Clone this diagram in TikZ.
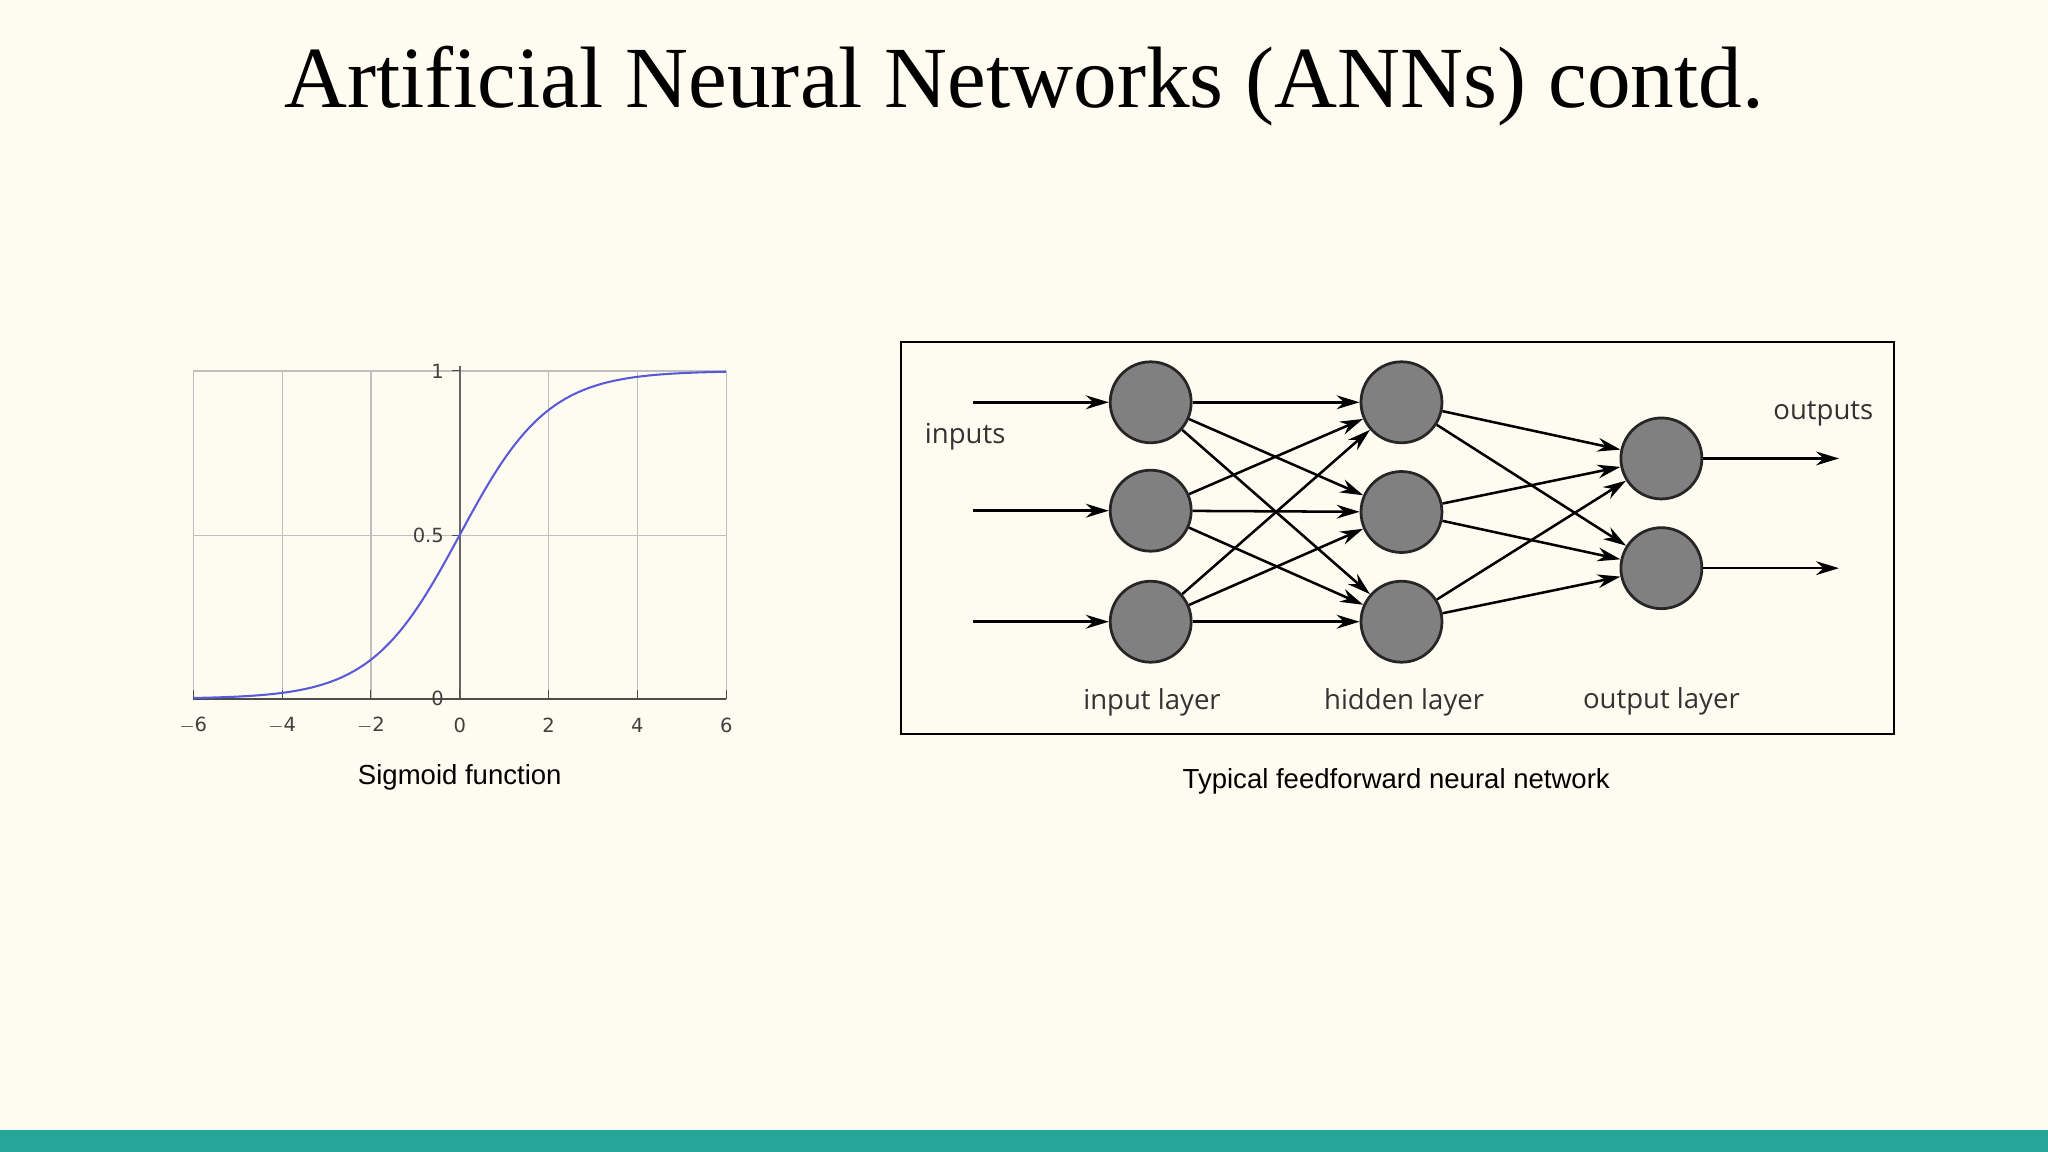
\documentclass[tikz,border=0pt]{standalone}
\usepackage{fontspec}
\setmainfont{Liberation Serif}
\newfontfamily\netfont{Open Sans}
\newfontfamily\capfont{Liberation Sans}
\newfontfamily\tickfont{DejaVu Sans}
\usetikzlibrary{arrows.meta}
\definecolor{bg}{HTML}{FEFBF0}
\definecolor{teal}{HTML}{26A69A}
\definecolor{neuron}{HTML}{808080}
\definecolor{curve}{HTML}{5A5AD8}
\begin{document}
\begin{tikzpicture}[x=0.02cm,y=-0.02cm,
  neu/.style={circle,draw=black!85,line width=1.2pt,fill=neuron,minimum size=62*0.02cm,inner sep=0pt},
  conn/.style={line width=1.1pt,-{Stealth[length=10pt,width=6pt]}},
  lbl/.style={font=\netfont\fontsize{12}{14}\selectfont,text=black!80},
  tick/.style={font=\tickfont\fontsize{8.5}{10}\selectfont,text=black!75},
  grid/.style={draw=black!25,line width=0.5pt}]
\fill[bg] (0,0) rectangle (1568,882);
\useasboundingbox (0,0) rectangle (1568,882);
\fill[teal] (0,865) rectangle (1568,882);
\node (title) at (784,66) {\fontsize{38}{44}\selectfont Artificial Neural Networks (ANNs) contd.};
% sigmoid
\foreach \v in {-6,-4,-2,2,4,6} \draw[grid] ({352+34*\v},284) -- ({352+34*\v},535);
\draw[grid] (148,284) -- (556,284);
\draw[grid] (148,410) -- (556,410);
\draw[black!60,line width=1pt] (352,280) -- (352,535);
\draw[black!70,line width=1pt] (148,535) -- (556,535);
\foreach \v in {-6,-4,-2,0,2,4,6} {
  \draw[black!70] ({352+34*\v},535) -- ({352+34*\v},528);
  \node[tick] (t\v) at ({352+34*\v},555) {\ifnum\v<0 $-$\the\numexpr-\v\relax\else\v\fi};}
\node[tick,anchor=east] (y1) at (346,284) {1};
\node[tick,anchor=east] (y05) at (346,410) {0.5};
\node[tick,anchor=east] (y0) at (346,535) {0};
\draw[black!70] (346,284)--(352,284) (346,410)--(352,410) (346,535)--(352,535);
\draw[curve,line width=0.9pt,samples=120,domain=-6:6] plot ({352+34*\x},{535-251/(1+exp(-\x))});
\node[font=\capfont\fontsize{12}{14}\selectfont] (cap1) at (352,595) {Sigmoid function};
% network
\draw[black,line width=0.8pt] (690,262) rectangle (1450,562);
\node[neu] (i1) at (881,308) {};
\node[neu] (i2) at (881,391) {};
\node[neu] (i3) at (881,476) {};
\node[neu] (h1) at (1073,308) {};
\node[neu] (h2) at (1073,392) {};
\node[neu] (h3) at (1073,476) {};
\node[neu] (o1) at (1272,351) {};
\node[neu] (o2) at (1272,435) {};
\coordinate (s1) at (745,308);\coordinate (s2) at (745,391);\coordinate (s3) at (745,476);
\coordinate (e1) at (1408,351);\coordinate (e2) at (1408,435);
\foreach \k in {1,2,3} \draw[conn] (s\k) -- (i\k);
\foreach \a in {1,2,3} \foreach \b in {1,2,3} \draw[conn] (i\a) -- (h\b);
\foreach \a in {1,2,3} \foreach \b in {1,2} \draw[conn] (h\a) -- (o\b);
\foreach \k in {1,2} \draw[conn] (o\k) -- (e\k);
\node[lbl] (lin) at (739,334) {inputs};
\node[lbl] (lout) at (1396,317) {outputs};
\node[lbl] (l1) at (882,538) {input layer};
\node[lbl] (l2) at (1075,538) {hidden layer};
\node[lbl] (l3) at (1272,537) {output layer};
\node[font=\capfont\fontsize{12}{14}\selectfont] (cap2) at (1069,598) {Typical feedforward neural network};
\end{tikzpicture}
\end{document}
